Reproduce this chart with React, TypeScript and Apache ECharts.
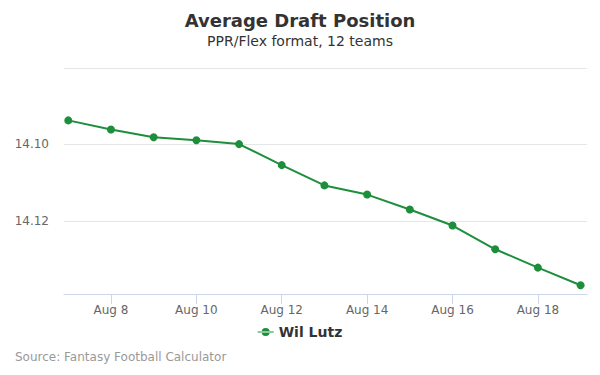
import React, { useEffect, useRef } from "react";
import * as echarts from "echarts";

const days: number[] = [7, 8, 9, 10, 11, 12, 13, 14, 15, 16, 17, 18, 19];
const adp: number[] = [
  14.0937, 14.0961, 14.0981, 14.0989, 14.0999, 14.1054, 14.1107, 14.1131,
  14.117, 14.1212, 14.1274, 14.1322, 14.1368,
];
const xTickDays: number[] = [8, 10, 12, 14, 16, 18];
const yLabelValues: number[] = [14.1, 14.12];
const yGridValues: number[] = [14.08, 14.1, 14.12];
const seriesName = "Wil Lutz";

export default function App() {
  const ref = useRef<HTMLDivElement>(null);
  useEffect(() => {
    if (!ref.current) return;
    const chart = echarts.init(ref.current, undefined, { renderer: "svg" });
    const font = "DejaVu Sans";
    const green = "#1d8f3c";
    chart.setOption({
      animation: false,
      textStyle: { fontFamily: font },
      title: {
        text: "Average Draft Position",
        subtext: "PPR/Flex format, 12 teams",
        left: "center",
        top: 6,
        itemGap: 5,
        textStyle: { fontFamily: font, fontSize: 18, fontWeight: "bold", color: "#333" },
        subtextStyle: { fontFamily: font, fontSize: 14, color: "#333" },
      },
      legend: {
        data: [seriesName],
        top: 320,
        left: "center",
        itemWidth: 16,
        itemHeight: 8,
        icon: "path://M0,3.5 L16,3.5 L16,4.5 L0,4.5 Z M4,4 A4,4 0 1 0 12,4 A4,4 0 1 0 4,4 Z",
        textStyle: { fontFamily: font, fontSize: 14, fontWeight: "bold", color: "#333" },
      },
      graphic: [
        {
          type: "text",
          left: 15,
          top: 351,
          style: { text: "Source: Fantasy Football Calculator", fontFamily: font, fontSize: 12, fill: "#999" },
        },
      ],
      grid: { left: 64, right: 13, top: 68, bottom: 81, containLabel: false },
      xAxis: {
        type: "value",
        min: 6.9,
        max: 19.15,
        axisLine: { show: true, lineStyle: { color: "#ccd6eb" } },
        axisTick: { show: true, length: 10, lineStyle: { color: "#ccd6eb" }, customValues: xTickDays },
        axisLabel: {
          customValues: xTickDays,
          formatter: (v: number) => `Aug ${v}`,
          color: "#666",
          fontSize: 12,
          margin: 10,
          fontFamily: font,
        },
        splitLine: { show: false },
      },
      yAxis: {
        type: "value",
        inverse: true,
        min: 14.08,
        max: 14.1391,
        axisLine: { show: false },
        axisTick: { show: false, customValues: yGridValues },
        axisLabel: {
          customValues: yLabelValues,
          formatter: (v: number) => v.toFixed(2),
          color: "#666",
          fontSize: 12,
          margin: 15,
          fontFamily: font,
        },
        splitLine: { show: true, lineStyle: { color: "#e6e6e6", width: 1 } },
      },
      series: [
        {
          name: seriesName,
          type: "line",
          data: days.map((d, i) => [d, adp[i]]),
          symbol: "circle",
          symbolSize: 8,
          itemStyle: { color: green },
          lineStyle: { color: green, width: 2 },
        },
      ],
    });
    return () => chart.dispose();
  }, []);
  return <div ref={ref} style={{ width: 600, height: 375, position: "absolute", left: 0, top: 0 }} />;
}
